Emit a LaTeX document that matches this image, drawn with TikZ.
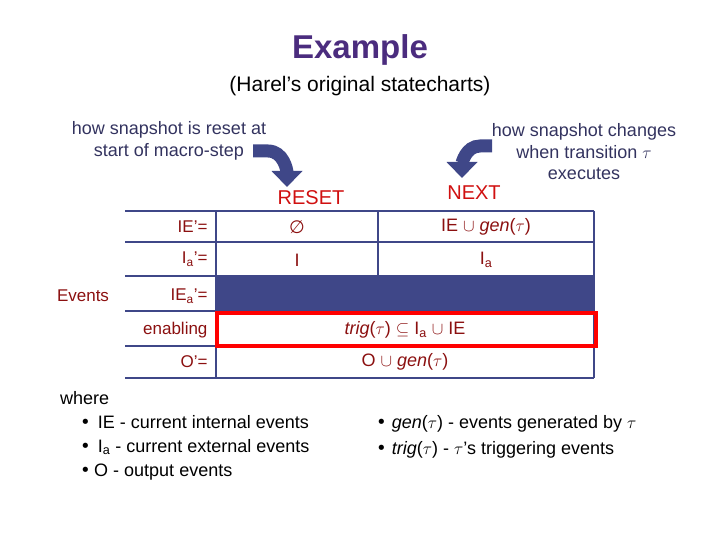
\documentclass[tikz,border=0pt]{standalone}
\usepackage{fontspec}
\setmainfont{Liberation Sans}
\newfontfamily\dv{DejaVu Sans}
\usetikzlibrary{arrows.meta}
\definecolor{ttl}{HTML}{4B2C7E}
\definecolor{ann}{HTML}{33335F}
\definecolor{drk}{HTML}{8B1010}
\definecolor{rd}{HTML}{D01010}
\definecolor{bl}{HTML}{3F4788}
\begin{document}
\begin{tikzpicture}[x=1pt,y=-1pt,
 lbl/.style={text=drk,font=\fontsize{17}{20}\selectfont,anchor=east},
 cell/.style={text=drk,font=\fontsize{18}{21}\selectfont},
 an/.style={text=ann,font=\fontsize{18}{21.5}\selectfont,align=center},
 tl/.style={draw=bl,line width=1.5pt},
 barrow/.style={draw=bl,line width=13pt,-{Triangle[length=16pt,width=30pt]}}]
\useasboundingbox (0,0) rectangle (720,540);
\node (title) [text=ttl,font=\bfseries\fontsize{33}{38}\selectfont] at (360,50) {Example};
\node (sub) [font=\fontsize{21}{25}\selectfont] at (360,86) {(Harel’s original statecharts)};
\node (a1) [an] at (169,141) {how snapshot is reset at\\start of macro-step};
\node (a2) [an] at (584,152) {how snapshot changes\\when transition $\tau$\\executes};
\coordinate (s1) at (253,151);
\coordinate (e1) at (287,187);
\draw[barrow] (s1) -- (268,151) to[out=0,in=90] (e1);
\coordinate (s2) at (492,146);
\coordinate (e2) at (462,178);
\draw[barrow] (s2) -- (480,146) to[out=180,in=90] (e2);
\node (reset) [text=rd,font=\fontsize{20}{24}\selectfont] at (311,198) {RESET};
\node (next) [text=rd,font=\fontsize{20}{24}\selectfont] at (474,193) {NEXT};
% table
\fill[bl] (216,276) rectangle (594,311);
\foreach \y in {211,242,276,311,346,378} \draw[tl] (125,\y) -- (594,\y);
\draw[tl] (216,211) -- (216,378);
\draw[tl] (594,211) -- (594,378);
\draw[tl] (378,211) -- (378,276);
\draw[draw=red,line width=4pt] (217,313) rectangle (596,346);
\node (l1) [lbl] at (211,227) {IE’=};
\node (l2) [lbl] at (211,259) {I\textsubscript{a}’=};
\node (l3) [lbl] at (211,296) {IE\textsubscript{a}’=};
\node (l4) [lbl] at (211,330) {enabling};
\node (l5) [lbl] at (211,362) {O’=};
\node (ev) [text=drk,font=\fontsize{17}{20}\selectfont] at (83,296) {Events};
\node (c1) [cell] at (297,227) {{\dv ∅}};
\node (c2) [cell] at (486,227) {IE $\cup$ \textit{gen}($\tau$)};
\node (c3) [cell] at (297,260) {I};
\node (c4) [cell] at (486,260) {I\textsubscript{a}};
\node (c5) [cell] at (405,330) {\textit{trig}($\tau$) $\subseteq$ I\textsubscript{a} $\cup$ IE};
\node (c6) [cell] at (405,362) {O $\cup$ \textit{gen}($\tau$)};
\node (w) [anchor=north west,inner sep=0pt,font=\fontsize{18}{24}\selectfont,align=left] at (60,391)
 {where\\\hspace{1.1em}{\dv •}\hspace{0.4em}IE - current internal events\\\hspace{1.1em}{\dv •}\hspace{0.4em}I\textsubscript{a} - current external events\\\hspace{1.1em}{\dv •}\hspace{0.2em}O - output events};
\node (g) [anchor=north west,inner sep=0pt,font=\fontsize{18}{26}\selectfont,align=left] at (376,415)
 {{\dv •} \textit{gen}($\tau$) - events generated by $\tau$\\{\dv •} \textit{trig}($\tau$) - $\tau$’s triggering events};
\end{tikzpicture}
\end{document}
